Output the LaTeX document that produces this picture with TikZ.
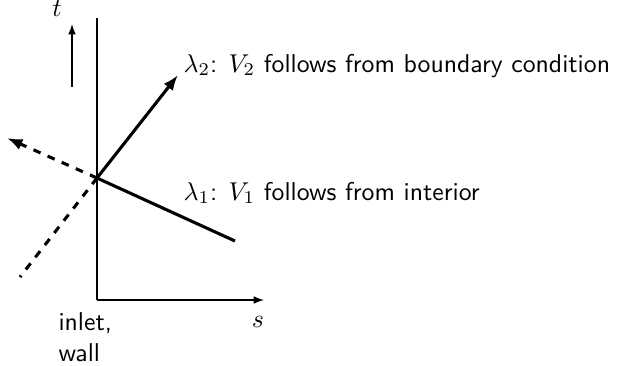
\documentclass[tikz,border=0pt]{standalone}
\usetikzlibrary{arrows.meta}
\renewcommand\familydefault{\sfdefault}
\begin{document}
\begin{tikzpicture}[x=0.3884pt,y=-0.3884pt,
  ax/.style={line width=0.55pt},
  axarrow/.style={-{Latex[length=4pt,width=3pt]}},
  char/.style={line width=1.2pt},
  chararrow/.style={-{Latex[length=6pt,width=4.5pt]}},
  lbl/.style={inner sep=0pt, font=\sffamily}]
\useasboundingbox (0,0) rectangle (622,365);
\coordinate (O) at (97,178);
\coordinate (top) at (97,18);
\coordinate (corner) at (97,300);
\coordinate (send) at (264,300);
\coordinate (tb) at (72,87);
\coordinate (tt) at (72,24);
\coordinate (l2) at (178,75);
\coordinate (l1) at (235,241);
\coordinate (d1) at (7,138);
\coordinate (d2) at (20,277);
% axes
\draw[ax] (top) -- (corner);
\draw[ax,axarrow] (corner) -- (send);
\draw[ax,axarrow] (tb) -- (tt);
% characteristics
\draw[char,chararrow] (O) -- (l2);
\draw[char] (O) -- (l1);
\draw[char,dashed,chararrow] (O) -- (d1);
\draw[char,dashed] (O) -- (d2);
% labels
\node[lbl, anchor=base west] (lam2) at (183,72) {$\lambda_2$: $V_2$ follows from boundary condition};
\node[lbl, anchor=base west] (lam1) at (183,200) {$\lambda_1$: $V_1$ follows from interior};
\node[lbl] (tl) at (57,9) {$t$};
\node[lbl] (sl) at (258,322) {$s$};
\node[lbl, anchor=north west, align=left] (iw) at (58,312) {inlet,\\wall};
\end{tikzpicture}
\end{document}
